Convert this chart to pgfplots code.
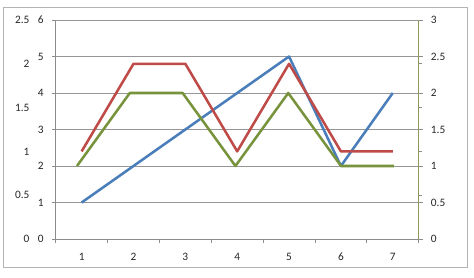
\documentclass[border=0pt]{standalone}
\usepackage{pgfplots}
\pgfplotsset{compat=1.18}
\usepackage{fontspec}
\setmainfont{Carlito}
\definecolor{cblue}{HTML}{4A7EBB}
\definecolor{cred}{HTML}{BE4B48}
\definecolor{cgreen}{HTML}{77933C}
\definecolor{caxis}{HTML}{8C8C8C}
\definecolor{cgrid}{HTML}{969696}
\definecolor{colive}{HTML}{8A9A5B}
\definecolor{cframe}{HTML}{B4B4B4}
\pgfplotsset{
  base/.style={
    scale only axis, width=272.25pt, height=164.25pt,
    at={(0,0)}, anchor=south west,
    /pgf/number format/assume math mode=true,
    tick label style={font=\fontsize{8.5}{10}\selectfont, text=black!85},
    tick align=outside,
    major tick length=3pt, minor tick length=3pt,
    clip=false,
  },
  ser/.style={line width=1.9pt, line join=round, mark=none},
}
\begin{document}
\begin{tikzpicture}
\path (-41.78pt,-29.25pt) rectangle (313.73pt,179.25pt);
\draw[cframe, line width=0.75pt] (-38.78pt,-21.75pt) rectangle (308.48pt,173.25pt);
% primary axis (0-6), blue
\begin{axis}[base,
  xmin=0.5, xmax=7.5, ymin=0, ymax=6,
  axis x line*=bottom, axis y line*=left,
  axis line style={caxis, line width=0.6pt, -},
  xtick={1,...,7}, minor xtick={0.5,1.5,...,7.5},
  major x tick style={draw=none},
  minor x tick style={caxis, line width=0.6pt},
  ytick={0,...,6},
  major y tick style={caxis, line width=0.6pt},
  ymajorgrids, grid style={cgrid, line width=0.6pt},
  yticklabel style={anchor=east, inner sep=0pt, xshift=-8.8pt+3pt},
  xticklabel style={anchor=north, inner sep=0pt, yshift=-7.2pt},
]
\addplot[ser, cblue] coordinates {(1,1) (2,2) (3,3) (4,4) (5,5) (6,2) (7,4)};
\end{axis}
% outer left axis (0-2.5), red
\begin{axis}[base,
  xmin=0.5, xmax=7.5, ymin=0, ymax=2.5,
  hide x axis,
  axis y line*=left,
  axis line style={draw=none},
  ytick={0,0.5,1,1.5,2,2.5},
  major y tick style={draw=none},
  yticklabel style={anchor=east, inner sep=0pt, xshift=-19.5pt+3pt},
]
\addplot[ser, cred] coordinates {(1,1) (2,2) (3,2) (4,1) (5,2) (6,1) (7,1)};
\end{axis}
% right axis (0-3), green
\begin{axis}[base,
  xmin=0.597, xmax=7.47, ymin=0, ymax=3,
  hide x axis,
  axis y line*=right,
  axis line style={colive, line width=0.8pt, -},
  ytick={0,0.5,1,1.5,2,2.5,3},
  major y tick style={caxis, line width=0.6pt},
  extra y ticks={0.6,1.2,1.8,2.4},
  extra y tick labels={},
  extra y tick style={major tick length=2.5pt, major y tick style={caxis, line width=0.5pt}},
  yticklabel style={anchor=west, inner sep=0pt, xshift=9pt-3pt},
]
\addplot[ser, cgreen] coordinates {(1,1) (2,2) (3,2) (4,1) (5,2) (6,1) (7,1)};
\end{axis}
\end{tikzpicture}
\end{document}
